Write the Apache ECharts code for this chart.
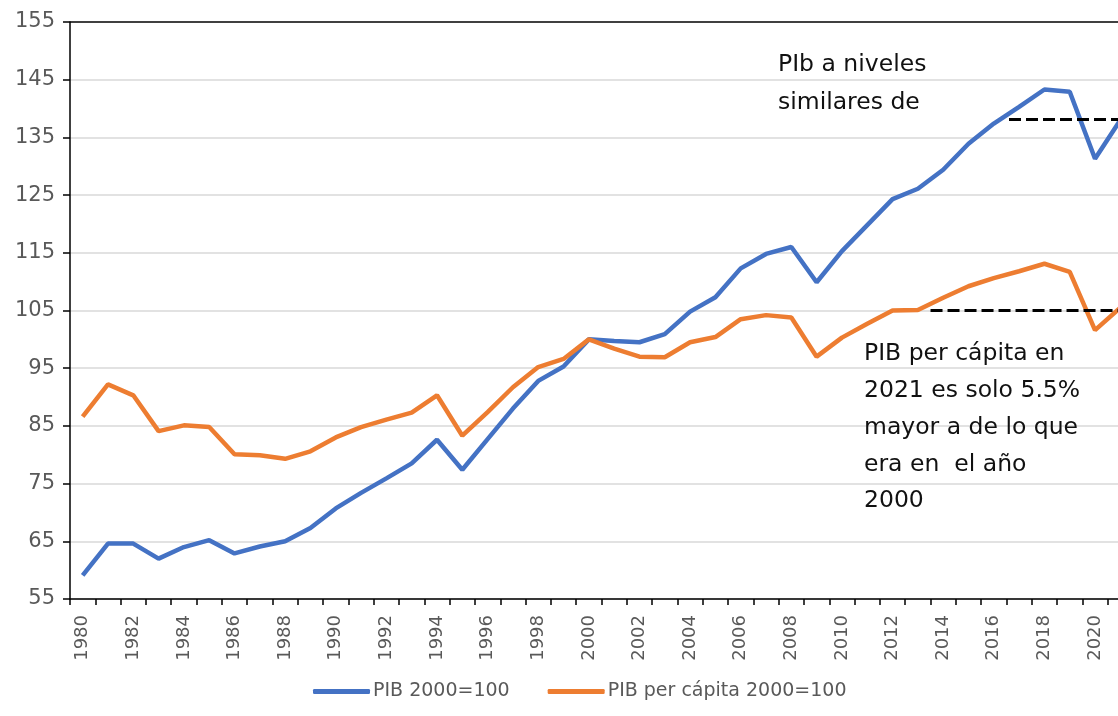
<!DOCTYPE html>
<html>
<head>
<meta charset="utf-8">
<script src="https://cdn.jsdelivr.net/npm/echarts@6/dist/echarts.min.js"></script>
<style>
html,body{margin:0;padding:0;background:#fff;}
#chart{width:1118px;height:716px;}
</style>
</head>
<body>
<div id="chart"></div>
<script>
const years = [1980,1981,1982,1983,1984,1985,1986,1987,1988,1989,1990,1991,1992,1993,1994,1995,1996,1997,1998,1999,2000,2001,2002,2003,2004,2005,2006,2007,2008,2009,2010,2011,2012,2013,2014,2015,2016,2017,2018,2019,2020,2021];
const pib = [59.1,64.6,64.6,62.0,64.0,65.2,62.9,64.1,65.0,67.3,70.7,73.4,75.9,78.5,82.6,77.4,82.7,88.0,92.8,95.3,100.0,99.7,99.5,100.9,104.8,107.3,112.3,114.8,116.0,109.9,115.3,119.8,124.3,126.1,129.4,133.9,137.4,140.3,143.3,142.9,131.3,138.0];
const pibPc = [86.6,92.2,90.3,84.1,85.1,84.8,80.1,79.9,79.3,80.6,83.0,84.8,86.1,87.3,90.3,83.3,87.4,91.7,95.2,96.6,100.0,98.4,97.0,96.9,99.5,100.4,103.5,104.2,103.8,97.0,100.3,102.7,105.0,105.1,107.2,109.2,110.6,111.8,113.1,111.7,101.6,105.5];
const seriesNames = ['PIB 2000=100','PIB per cápita 2000=100'];
const yTicks = {min:55, max:155, step:10};
// reference dashed lines: start year and level
const refStarts = [2016.6, 2013.5];
const refLevels = [138.1, 105.0];
const annotTop = 'PIb a niveles\nsimilares de';
const annotBottom = 'PIB per cápita en\n2021 es solo 5.5%\nmayor a de lo que\nera en  el año\n2000';

const lastYear = years[years.length-1];
const chart = echarts.init(document.getElementById('chart'), null, {renderer:'canvas'});
const gridColors = [];
for (let v = yTicks.min; v <= yTicks.max; v += yTicks.step) gridColors.push(v === yTicks.max ? '#000000' : '#d9d9d9');

const option = {
  animation:false,
  backgroundColor:'#ffffff',
  grid:{left:70, top:22, width:1063, height:577, containLabel:false, outerBoundsMode:'none'},
  legend:{
    data:seriesNames,
    left:308, top:677,
    icon:'roundRect',
    itemWidth:57, itemHeight:5,
    itemGap:38,
    textStyle:{fontFamily:'DejaVu Sans', fontSize:19, color:'#595959', padding:[0,0,0,-2]}
  },
  xAxis:[{
    type:'category',
    data:years.map(String),
    boundaryGap:true,
    axisLine:{lineStyle:{color:'#000', width:1.5}},
    axisTick:{show:true, interval:0, length:6, lineStyle:{color:'#000', width:1.5}},
    axisLabel:{interval:1, rotate:90, margin:16, fontFamily:'DejaVu Sans', fontSize:18, color:'#595959'},
    splitLine:{show:false}
  },{
    type:'value', min:years[0]-0.5, max:lastYear+0.5, show:false
  }],
  yAxis:{
    type:'value', min:yTicks.min, max:yTicks.max, interval:yTicks.step,
    axisLine:{show:true, lineStyle:{color:'#000', width:1.5}},
    axisTick:{show:true, length:7, lineStyle:{color:'#000', width:1.5}},
    axisLabel:{margin:15, fontFamily:'DejaVu Sans', fontSize:21, color:'#595959'},
    splitLine:{show:true, lineStyle:{color:gridColors, width:1.5}}
  },
  series:[
    {name:seriesNames[0], type:'line', data:pib, symbol:'none', z:3,
     lineStyle:{color:'#4472C4', width:4.5}, itemStyle:{color:'#4472C4'}},
    {name:seriesNames[1], type:'line', data:pibPc, symbol:'none', z:3,
     lineStyle:{color:'#ED7D31', width:4.5}, itemStyle:{color:'#ED7D31'}},
    {name:'refPib', type:'line', xAxisIndex:1, symbol:'none', z:4,
     data:[[refStarts[0], refLevels[0]],[lastYear+0.5, refLevels[0]]],
     lineStyle:{color:'#000', width:3, type:[12,5]}},
    {name:'refPc', type:'line', xAxisIndex:1, symbol:'none', z:4,
     data:[[refStarts[1], refLevels[1]],[lastYear+0.5, refLevels[1]]],
     lineStyle:{color:'#000', width:3, type:[12,5]}}
  ],
  graphic:[
    {type:'text', left:778, top:46, z:10,
     style:{text:annotTop, font:'23.5px "DejaVu Sans"', lineHeight:38, fill:'#111'}},
    {type:'text', left:864, top:336, z:10,
     style:{text:annotBottom, font:'23.5px "DejaVu Sans"', lineHeight:36.7, fill:'#111'}}
  ]
};
chart.setOption(option);
</script>
</body>
</html>
